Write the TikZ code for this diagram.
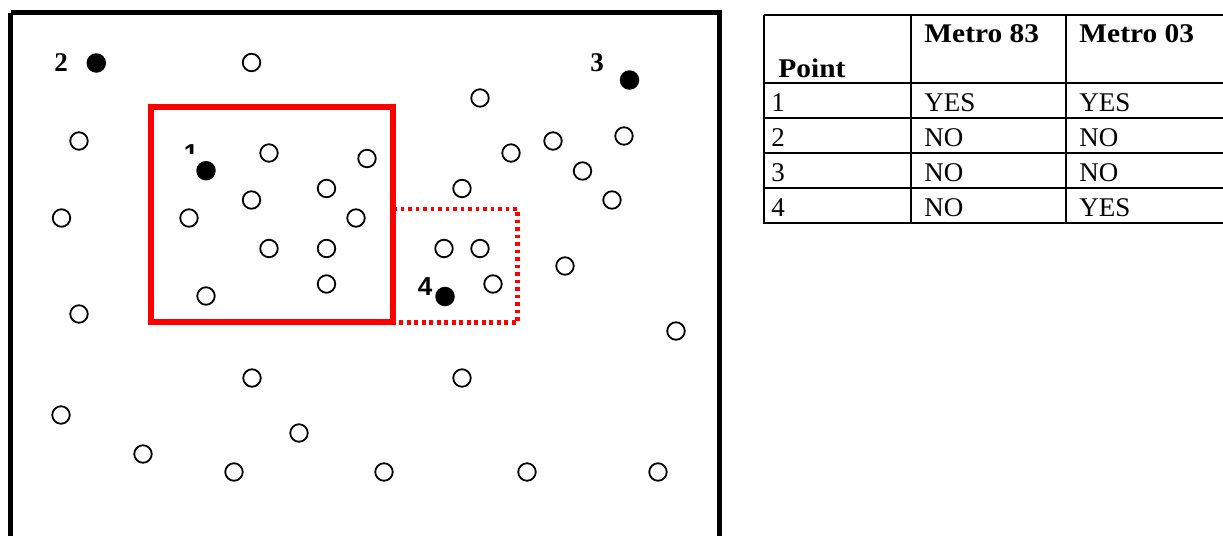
\documentclass[tikz,border=0pt]{standalone}
\usepackage{fontspec}
\setmainfont{Liberation Serif}
\newfontfamily\lsans{Liberation Sans}
\newfontfamily\hdfont[FakeStretch=1.09]{Liberation Serif}
\begin{document}
\begin{tikzpicture}[x=0.5pt,y=-0.5pt,
  opt/.style={circle,draw,line width=0.9pt,minimum size=8.75pt,inner sep=0pt},
  dot/.style={circle,fill=black,minimum size=9.75pt,inner sep=0pt},
  lab/.style={font=\bfseries\fontsize{13.5}{16}\selectfont,inner sep=0pt,anchor=base},
  slab/.style={font=\lsans\bfseries\fontsize{13}{16}\selectfont,inner sep=0pt,anchor=base},
  frame/.style={line width=2.25pt,black},
  zone/.style={line width=2.8pt,red},
  zonedot/.style={line width=2.1pt,red,dash pattern=on 1.9pt off 1.85pt},
  grid/.style={line width=1pt,black},
  cell/.style={font=\fontsize{13.5}{16}\selectfont,inner sep=0pt,anchor=base west},
  hcell/.style={font=\hdfont\bfseries\fontsize{13.5}{16}\selectfont,inner sep=0pt,anchor=base west}]
\useasboundingbox (0,0) rectangle (1223,536);
\begin{scope}
\clip (0,0) rectangle (1223,536);
% outer frame
\draw[frame] (10.5,12.5) -- (719.5,12.5) -- (719.5,600) (10.5,12.5) -- (10.5,600);
% zones
\draw[zonedot] (393,209) -- (517.5,209) -- (517.5,322.5) -- (393,322.5);
\draw[zone] (151,107) rectangle (393,322);
% open points
\foreach \n/\x/\y in {a/251.5/62.5, b/79/141, c/61.5/218, d/269/153, e/367/158.5,
  f/326.5/188.5, g/251.5/200, h/189/218, i/356/218, j/269/248.5, k/326.5/248.5,
  l/480/98, m/511/153, n/553/141, o/624/136, p/582.5/171, q/612/200, r/462/188.5,
  s/444/248.5, t/480/248.5, u/565/266, v/206/296, w/326.5/284, x/493/284,
  y/79/314, z/676/331, aa/252/378, ab/462/378, ac/61/415, ad/299/433, ae/143/454,
  af/234/472, ag/384/472, ah/527/472, ai/658/472}
  \node[opt] (\n) at (\x,\y) {};
% labelled points
\node[dot] (d1) at (206,170.7) {};
\node[dot] (d2) at (96.3,63) {};
\node[dot] (d3) at (629.5,80) {};
\node[dot] (d4) at (445,296.5) {};
\node[lab] (l2) at (61,71.7) {2};
\node[lab] (l3) at (597,71.7) {3};
\node[slab] (l4) at (425,295) {4};
\begin{scope}
\clip (170,130) rectangle (230,153.5);
\node[slab] (l1) at (191,162) {1};
\end{scope}
% table grid
\foreach \yy in {15,83,118,153,188,223}
  \draw[grid] (763.7,\yy) -- (1230,\yy);
\foreach \xx in {763.7,911,1066}
  \draw[grid] (\xx,14.5) -- (\xx,223.5);
\node[hcell] (hp) at (778,77) {Point};
\node[hcell] (h83) at (924,42) {Metro 83};
\node[hcell] (h03) at (1079,42) {Metro 03};
\foreach \r/\yy/\a/\b in {1/111/YES/YES, 2/146/NO/NO, 3/181/NO/NO, 4/216/NO/YES}{
  \node[cell] (r\r c1) at (771,\yy) {\r};
  \node[cell] (r\r c2) at (924,\yy) {\a};
  \node[cell] (r\r c3) at (1079,\yy) {\b};
}
\end{scope}
\end{tikzpicture}
\end{document}
